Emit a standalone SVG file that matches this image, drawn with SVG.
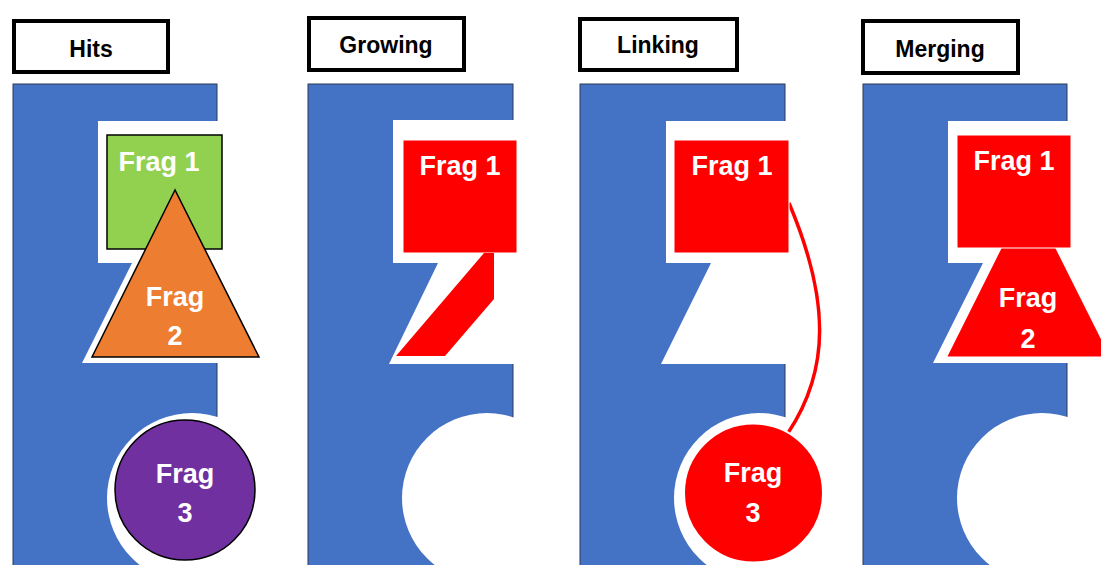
<svg xmlns="http://www.w3.org/2000/svg" width="1101" height="565" viewBox="0 0 1101 565">
  <style>
    .lbl { fill: #FFFFFF; stroke: #000000; stroke-width: 4; }
    .lbltxt { font-family: "Liberation Sans", Arial, sans-serif; font-weight: bold; font-size: 23px; fill: #000000; text-anchor: middle; }
    .blue { fill: #4472C4; stroke: #2B3A55; stroke-width: 1; }
    .pocket { fill: #FFFFFF; stroke: none; }
    .frag { font-family: "Liberation Sans", Arial, sans-serif; font-weight: bold; font-size: 27px; fill: #FFFFFF; text-anchor: middle; }
    .red { fill: #FF0000; stroke: #FFFFFF; stroke-width: 1; }
    .blk { stroke: #000000; stroke-width: 1.5; }
  </style>
  <rect width="1101" height="565" fill="#FFFFFF"/>

  <!-- Panel 1: Hits -->
  <g id="panel-hits">
    <rect class="lbl" x="14" y="21" width="154" height="51"/>
    <text class="lbltxt" x="91" y="57">Hits</text>
    <rect class="blue" x="13" y="84" width="204" height="490"/>
    <polygon class="pocket" points="98,121 219,121 219,363 82,363 132,263 98,263"/>
    <circle class="pocket" cx="192" cy="498" r="85"/>
  </g>
  <g id="hits-frag1">
    <rect class="blk" x="107" y="135" width="115" height="114" fill="#92D050"/>
    <text class="frag" x="159" y="171">Frag 1</text>
  </g>
  <g id="hits-frag2">
    <polygon class="blk" points="175,190 92,357 259,357" fill="#ED7D31"/>
    <text class="frag" x="175" y="306">Frag</text>
    <text class="frag" x="175" y="345">2</text>
  </g>
  <g id="hits-frag3">
    <circle class="blk" cx="185" cy="490" r="70" fill="#7030A0"/>
    <text class="frag" x="185" y="483">Frag</text>
    <text class="frag" x="185" y="522">3</text>
  </g>

  <!-- Panel 2: Growing -->
  <g id="panel-growing">
    <rect class="lbl" x="309" y="18" width="155" height="52"/>
    <text class="lbltxt" x="386" y="53">Growing</text>
    <rect class="blue" x="308" y="84" width="205" height="490"/>
    <polygon class="pocket" points="393,120 515,120 515,364 389,364 438,263 393,263"/>
    <circle class="pocket" cx="487" cy="498" r="85"/>
  </g>
  <g id="growing-frag1">
    <rect class="red" x="403" y="140" width="114" height="113"/>
    <polygon fill="#FF0000" points="484,253 494,253 494,299 445,356 396,356"/>
    <text class="frag" x="460" y="175">Frag 1</text>
  </g>

  <!-- Panel 3: Linking -->
  <g id="panel-linking">
    <rect class="lbl" x="580" y="19" width="157" height="51"/>
    <text class="lbltxt" x="658" y="53">Linking</text>
    <rect class="blue" x="580" y="84" width="205" height="490"/>
    <polygon class="pocket" points="666,121 787,121 787,364 661,364 711,263 666,263"/>
    <circle class="pocket" cx="759" cy="498" r="85"/>
  </g>
  <g id="connectors">
    <path d="M789,203 C830,300 830,370 788,433" fill="none" stroke="#FF0000" stroke-width="3.5"/>
  </g>
  <g id="linking-frag1">
    <rect class="red" x="674" y="140" width="115" height="113"/>
    <text class="frag" x="732" y="175">Frag 1</text>
  </g>
  <g id="linking-frag3">
    <circle cx="753.5" cy="493" r="69.5" fill="#FF0000" stroke="#FFFFFF" stroke-width="2"/>
    <text class="frag" x="753" y="482">Frag</text>
    <text class="frag" x="753" y="522">3</text>
  </g>

  <!-- Panel 4: Merging -->
  <g id="panel-merging">
    <rect class="lbl" x="863" y="21" width="155" height="52"/>
    <text class="lbltxt" x="940" y="57">Merging</text>
    <rect class="blue" x="863" y="84" width="204" height="490"/>
    <polygon class="pocket" points="948,121 1069,121 1069,363 933,363 983,263 948,263"/>
    <circle class="pocket" cx="1042" cy="498" r="85"/>
  </g>
  <g id="merging-frag">
    <polygon points="1028.5,191 945,358 1112,358" fill="#FF0000" stroke="#FFFFFF" stroke-width="3"/>
    <rect class="red" x="957" y="135" width="114" height="113"/>
    <text class="frag" x="1014" y="170">Frag 1</text>
    <text class="frag" x="1028" y="307">Frag</text>
    <text class="frag" x="1028" y="348">2</text>
  </g>
</svg>
